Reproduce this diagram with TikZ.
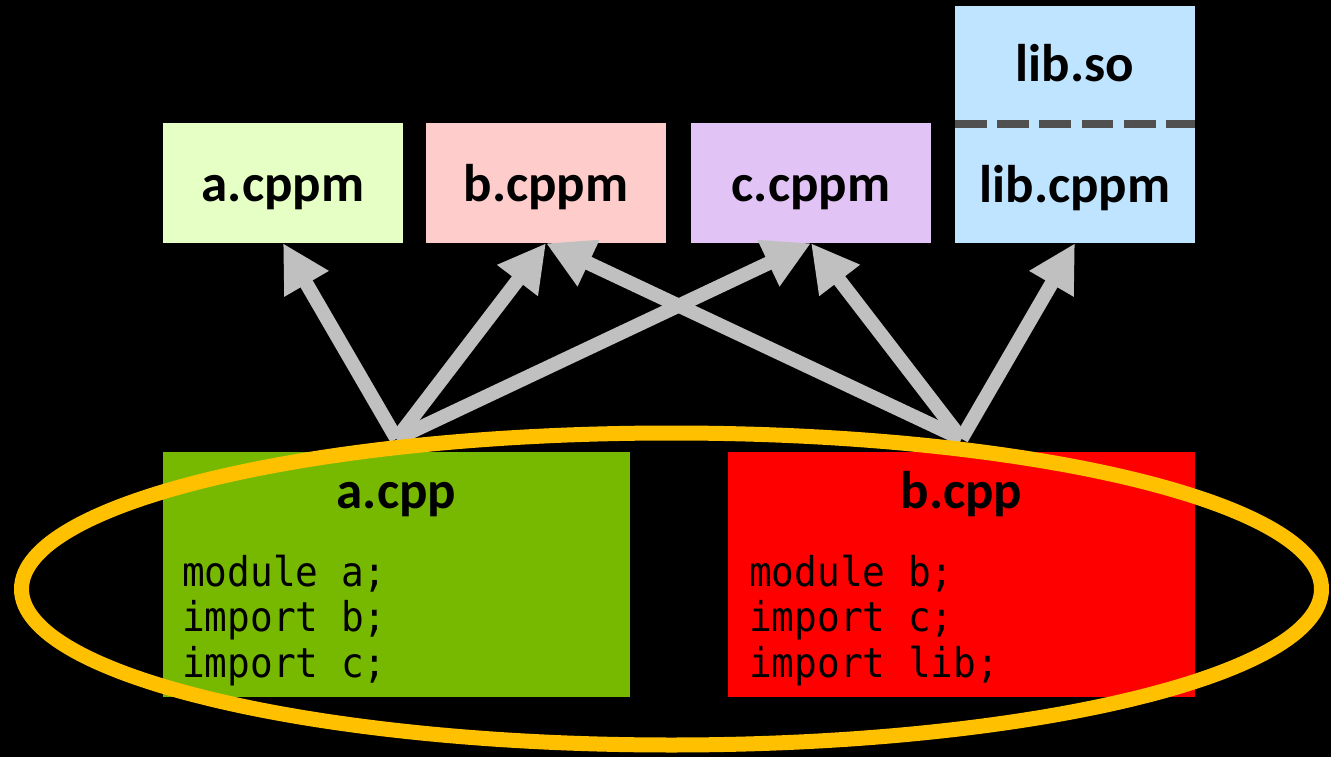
\documentclass[tikz,border=0pt]{standalone}
\usepackage{fontspec}
\setmainfont{Carlito}
\newfontfamily\codefont[FakeStretch=0.92]{DejaVu Sans Mono}
% monospaced listing text; a blank takes exactly one character cell
\newcommand\codesetup{\codefont\fontsize{41}{45.5}\selectfont}
\newcommand\codespace{\hspace*{22.7pt}}
\usetikzlibrary{arrows.meta}

\definecolor{cppmA}{HTML}{E6FFC4}
\definecolor{cppmB}{HTML}{FFCCCC}
\definecolor{cppmC}{HTML}{E1C3F5}
\definecolor{libblue}{HTML}{BFE4FF}
\definecolor{srcA}{HTML}{76B900}
\definecolor{srcB}{HTML}{FF0000}
\definecolor{ring}{HTML}{FFC000}
\definecolor{deparrow}{HTML}{C0C0C0}
\definecolor{divider}{HTML}{505050}

\begin{document}
\begin{tikzpicture}[x=1pt,y=-1pt,
  box/.style={rectangle, inner sep=0pt, draw=none},
  ifacebox/.style={box, minimum width=240pt, minimum height=120pt},
  srcbox/.style={box, minimum width=467pt, minimum height=245pt},
  boxtext/.style={anchor=base, inner sep=0pt, text=black,
    font=\fontsize{53}{60}\selectfont\bfseries},
  codetext/.style={anchor=base west, inner sep=0pt, text=black,
    text width=400pt, align=left, font=\codesetup},
  dep/.style={draw=deparrow, line width=14pt,
    -{Triangle[length=47pt,width=48pt]}},
  dashline/.style={draw=divider, line width=8pt,
    dash pattern=on 31.7pt off 10.6pt}
]
% canvas
\fill[black] (0,0) rectangle (1331,757);

% precompiled module interfaces
\node[ifacebox, fill=cppmA] (acppm) at (283,183) {};
\node[ifacebox, fill=cppmB] (bcppm) at (546,183) {};
\node[ifacebox, fill=cppmC] (ccppm) at (811,183) {};
\node[box, fill=libblue, minimum width=240pt, minimum height=237pt] (lib) at (1075,124.5) {};
\draw[dashline] (lib.west) -- (lib.east);

\node[boxtext] (acppmtext) at (283,201) {a.cppm};
\node[boxtext] (bcppmtext) at (546,201) {b.cppm};
\node[boxtext] (ccppmtext) at (811,201) {c.cppm};
\node[boxtext] (libsotext) at (1075,82) {lib.so};
\node[boxtext] (libcppmtext) at (1075,202) {lib.cppm};

% source files
\node[srcbox, fill=srcA] (acpp) at (396.5,574.5) {};
\node[srcbox, fill=srcB] (bcpp) at (961.5,574.5) {};
\node[boxtext] (acpptitle) at (396.5,508) {a.cpp};
\node[boxtext] (bcpptitle) at (961.5,508) {b.cpp};
\node[codetext] (acppcode) at (182,586)
  {module\codespace a;\\import\codespace b;\\import\codespace c;};
\node[codetext] (bcppcode) at (749,586)
  {module\codespace b;\\import\codespace c;\\import\codespace lib;};

% dependency arrows
\coordinate (asrc) at ([yshift=13pt]acpp.north);
\coordinate (bsrc) at ([yshift=13pt]bcpp.north);
\draw[dep] (asrc) -- (acppm.south);
\draw[dep] (asrc) -- (bcppm.south);
\draw[dep] (asrc) -- (ccppm.south);
\draw[dep] (bsrc) -- (bcppm.south);
\draw[dep] (bsrc) -- (ccppm.south);
\draw[dep] (bsrc) -- (lib.south);

% build group outline
\draw[ring, line width=15pt] (671.5,589) ellipse [x radius=650, y radius=156];
\end{tikzpicture}
\end{document}
